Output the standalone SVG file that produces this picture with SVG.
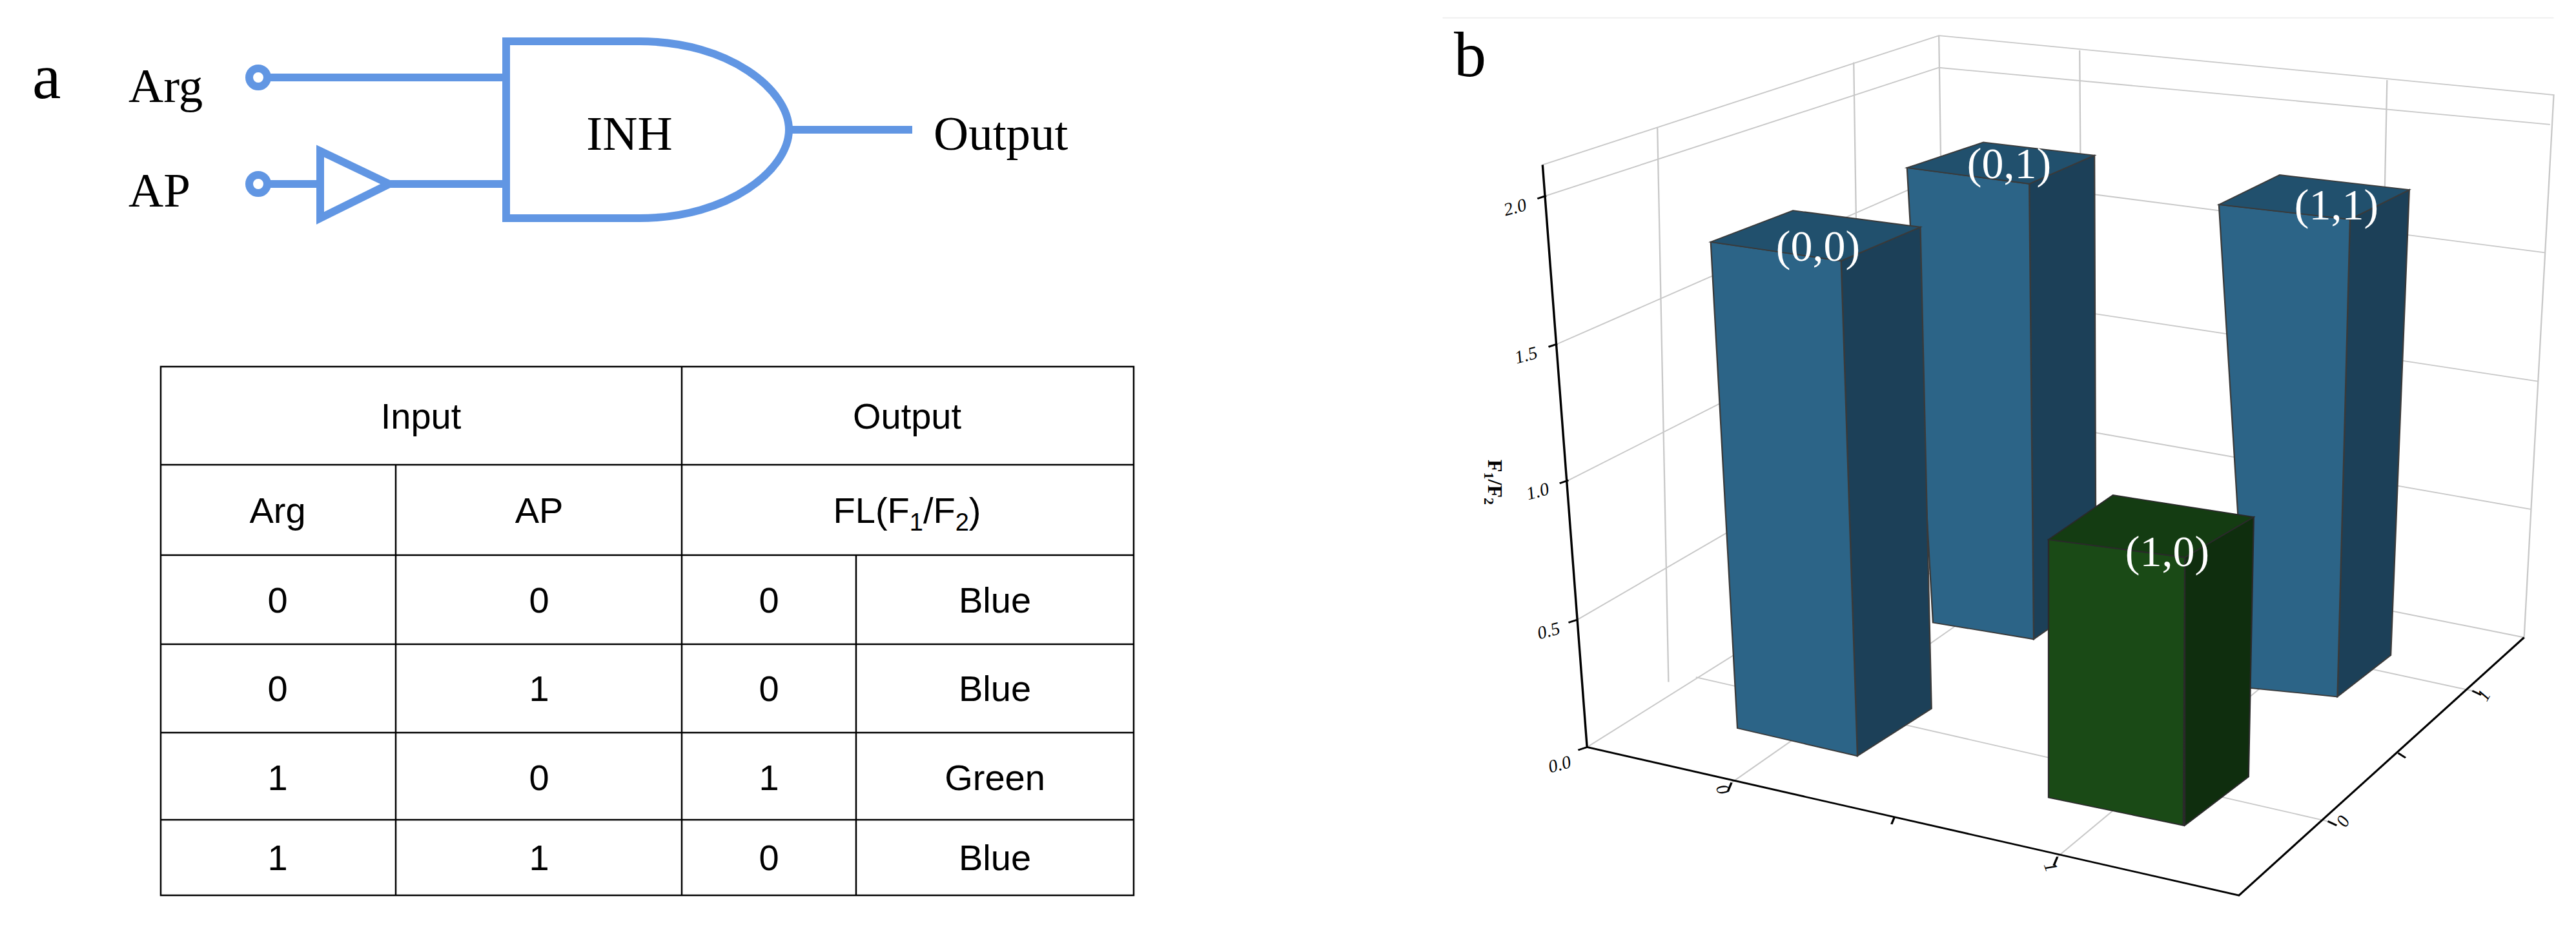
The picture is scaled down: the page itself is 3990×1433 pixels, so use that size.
<svg xmlns="http://www.w3.org/2000/svg" width="3990" height="1433" viewBox="0 0 3990 1433">
<style>
.w{stroke:#6196e3;stroke-width:12;fill:none}
.ser{font-family:"Liberation Serif",serif;fill:#000}
.t{font-family:"Liberation Sans",sans-serif;font-size:56px;text-anchor:middle;fill:#000}
.tl{stroke:#000;stroke-width:2.5;fill:none}
.g{stroke:#c8c8c8;stroke-width:2;fill:none}
.ax{stroke:#000;stroke-width:3;fill:none}
.bf{fill:#2c6487;stroke:#3a3a3a;stroke-width:2}
.bs{fill:#1c4058;stroke:#3a3a3a;stroke-width:2}
.bt{fill:#21506d;stroke:#3a3a3a;stroke-width:2}
.gf{fill:#1a4a16;stroke:#2a2a2a;stroke-width:2}
.gs{fill:#0f2e0e;stroke:#2a2a2a;stroke-width:2}
.gt{fill:#143c12;stroke:#2a2a2a;stroke-width:2}
.lab{font-family:"Liberation Serif",serif;font-size:68px;fill:#fff;text-anchor:middle}
.tk{font-family:"Liberation Serif",serif;font-size:28px;font-style:italic;fill:#000;text-anchor:middle}
</style>
<rect width="3990" height="1433" fill="#fff"/>
<text class="ser" x="50" y="152" font-size="100">a</text>
<text class="ser" x="2252" y="118" font-size="100">b</text>
<g id="gate">
<g id="connectors">
<line class="w" x1="415" y1="120" x2="784" y2="120"/>
<line class="w" x1="415" y1="285" x2="496" y2="285"/>
<line class="w" x1="603" y1="285" x2="784" y2="285"/>
<line class="w" x1="1222" y1="201" x2="1413" y2="201"/>
</g>
<circle class="w" cx="400" cy="120" r="14" stroke-width="10" fill="#fff"/>
<circle class="w" cx="400" cy="285" r="14" stroke-width="10" fill="#fff"/>
<path class="w" d="M496,234 L603,285 L496,338 Z" stroke-width="10"/>
<path class="w" d="M784,64 L990,64 C1130,64 1222,140 1222,201 C1222,262 1130,338 990,338 L784,338 Z"/>
<text class="ser" x="199" y="158" font-size="75">Arg</text>
<text class="ser" x="199" y="320" font-size="75">AP</text>
<text class="ser" x="975" y="232" font-size="75" text-anchor="middle">INH</text>
<text class="ser" x="1446" y="232" font-size="75">Output</text>
</g>
<g id="table">
<rect class="tl" x="249" y="568" width="1507" height="819"/>
<path class="tl" d="M249,720H1756M249,860H1756M249,998H1756M249,1135H1756M249,1270H1756M1056,568V1387M613,720V1387M1326,860V1387"/>
<text class="t" x="652" y="664">Input</text>
<text class="t" x="1405" y="664">Output</text>
<text class="t" x="430" y="810">Arg</text>
<text class="t" x="835" y="810">AP</text>
<text class="t" x="1405" y="810">FL(F<tspan font-size="38" dy="12">1</tspan><tspan dy="-12">/F</tspan><tspan font-size="38" dy="12">2</tspan><tspan dy="-12">)</tspan></text>
<text class="t" x="430" y="949">0</text><text class="t" x="835" y="949">0</text><text class="t" x="1191" y="949">0</text><text class="t" x="1541" y="949">Blue</text>
<text class="t" x="430" y="1086">0</text><text class="t" x="835" y="1086">1</text><text class="t" x="1191" y="1086">0</text><text class="t" x="1541" y="1086">Blue</text>
<text class="t" x="430" y="1224">1</text><text class="t" x="835" y="1224">0</text><text class="t" x="1191" y="1224">1</text><text class="t" x="1541" y="1224">Green</text>
<text class="t" x="430" y="1348">1</text><text class="t" x="835" y="1348">1</text><text class="t" x="1191" y="1348">0</text><text class="t" x="1541" y="1348">Blue</text>
</g>
<g id="chart" transform="translate(2200,0) scale(1.1474,0.9186)">
<line x1="30" y1="30" x2="1530" y2="30" stroke="#eee" stroke-width="2"/>
<path class="g" d="M165,278 L700,60 L1530,160 L1490,1075 M700,60 L710,880 M320,215 L335,1150 M585,105 L595,925 M890,85 L895,925 M1305,135 L1290,1025
M170,330 L700,114 L1525,210 M185,580 L705,295 L1518,426 M200,810 L705,490 L1508,643 M212,1045 L708,685 L1500,859 M225,1260 L710,880 L1490,1075
M420,1320 L874,923 M860,1445 L1269,1020 M372,1142 L1225,1385 M615,948 L1420,1165"/>
<g id="bar01"><path class="bs" d="M822,310 L910,262 L912,1005 L828,1078 Z"/><path class="bf" d="M657,283 L822,310 L828,1078 L692,1050 Z"/><path class="bt" d="M657,283 L760,240 L910,262 L822,310 Z"/></g>
<g id="bar11"><path class="bs" d="M1255,370 L1335,320 L1310,1105 L1238,1175 Z"/><path class="bf" d="M1078,345 L1255,370 L1238,1175 L1118,1160 Z"/><path class="bt" d="M1078,345 L1160,295 L1335,320 L1255,370 Z"/></g>
<g id="bar00"><path class="bs" d="M568,440 L675,383 L690,1195 L590,1275 Z"/><path class="bf" d="M392,408 L568,440 L590,1275 L428,1228 Z"/><path class="bt" d="M392,408 L503,355 L675,383 L568,440 Z"/></g>
<g id="bar10"><path class="gs" d="M1032,940 L1125,872 L1118,1310 L1032,1392 Z"/><path class="gf" d="M848,910 L1032,940 L1030,1392 L848,1345 Z"/><path class="gt" d="M848,910 L935,835 L1125,872 L1032,940 Z"/></g>
<path class="ax" d="M165,278 L225,1260 L1105,1510 L1490,1075 M170,330 L158,335 M185,580 L173,585 M200,810 L188,815 M212,1045 L200,1050 M225,1260 L213,1265 M420,1320 L415,1335 M860,1445 L855,1460 M1420,1165 L1432,1172 M1225,1385 L1237,1392 M640,1378 L636,1390 M1320,1270 L1330,1278"/>
</g>
<g id="labels">
<text class="lab" x="2816" y="404">(0,0)</text>
<text class="lab" x="3112" y="276">(0,1)</text>
<text class="lab" x="3619" y="340">(1,1)</text>
<text class="lab" x="3357" y="877">(1,0)</text>
<text class="tk" transform="translate(2349,330) rotate(-15)">2.0</text>
<text class="tk" transform="translate(2366,559) rotate(-15)">1.5</text>
<text class="tk" transform="translate(2384,770) rotate(-15)">1.0</text>
<text class="tk" transform="translate(2401,986) rotate(-15)">0.5</text>
<text class="tk" transform="translate(2418,1193) rotate(-15)">0.0</text>
<text class="tk" transform="translate(2660,1226) rotate(70)">0</text>
<text class="tk" transform="translate(3168,1346) rotate(70)">1</text>
<text class="tk" transform="translate(3855,1082) rotate(-60)">1</text>
<text class="tk" transform="translate(3637,1277) rotate(-60)">0</text>
<text font-family="Liberation Serif,serif" font-weight="bold" font-size="32" transform="translate(2305,712) rotate(90)">F<tspan font-size="22" dy="6">1</tspan><tspan dy="-6">/F</tspan><tspan font-size="22" dy="6">2</tspan></text>
</g>
</svg>
